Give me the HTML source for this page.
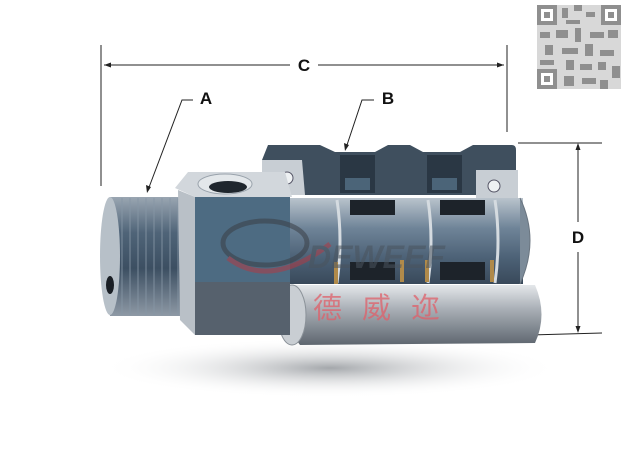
<!DOCTYPE html>
<html><head><meta charset="utf-8"><style>
html,body{margin:0;padding:0;background:#fff;}
svg{display:block;}
text{font-family:"Liberation Sans",Arial,sans-serif;font-weight:bold;}
</style></head><body>
<svg width="629" height="454" viewBox="0 0 629 454" xmlns="http://www.w3.org/2000/svg">
<defs>
<linearGradient id="thr" x1="0" y1="0" x2="0" y2="1">
<stop offset="0" stop-color="#9aa6b2"/><stop offset="0.3" stop-color="#4f6478"/><stop offset="0.6" stop-color="#3c4f62"/><stop offset="1" stop-color="#8e99a5"/></linearGradient>
<linearGradient id="shaft" x1="0" y1="0" x2="0" y2="1">
<stop offset="0" stop-color="#b9c3cc"/><stop offset="0.35" stop-color="#6f8498"/><stop offset="0.7" stop-color="#4c6176"/><stop offset="1" stop-color="#39495a"/></linearGradient>
<linearGradient id="bot" x1="0" y1="0" x2="0" y2="1">
<stop offset="0" stop-color="#e4e7ea"/><stop offset="0.4" stop-color="#a9afb6"/><stop offset="1" stop-color="#5e666f"/></linearGradient>
<radialGradient id="sh" cx="0.5" cy="0.5" r="0.5">
<stop offset="0" stop-color="#8d9196" stop-opacity="0.8"/><stop offset="1" stop-color="#fff" stop-opacity="0"/></radialGradient>
</defs>
<!-- shadow -->
<ellipse cx="330" cy="368" rx="230" ry="30" fill="url(#sh)"/>
<!-- QR -->
<g fill="#8f8f8f">
<rect x="537" y="5" width="84" height="84" fill="#d8d8d8"/>
<rect x="537" y="5" width="20" height="20"/><rect x="541" y="9" width="12" height="12" fill="#fff"/><rect x="544" y="12" width="6" height="6"/>
<rect x="601" y="5" width="20" height="20"/><rect x="605" y="9" width="12" height="12" fill="#fff"/><rect x="608" y="12" width="6" height="6"/>
<rect x="537" y="69" width="20" height="20"/><rect x="541" y="73" width="12" height="12" fill="#fff"/><rect x="544" y="76" width="6" height="6"/>
<rect x="562" y="8" width="6" height="10"/><rect x="574" y="5" width="8" height="6"/><rect x="586" y="12" width="9" height="5"/>
<rect x="540" y="32" width="10" height="6"/><rect x="556" y="30" width="12" height="8"/><rect x="575" y="28" width="6" height="14"/>
<rect x="590" y="32" width="14" height="6"/><rect x="608" y="30" width="10" height="8"/><rect x="545" y="45" width="8" height="10"/>
<rect x="562" y="48" width="16" height="6"/><rect x="585" y="44" width="8" height="12"/><rect x="600" y="50" width="14" height="6"/>
<rect x="540" y="60" width="14" height="5"/><rect x="566" y="60" width="8" height="10"/><rect x="580" y="64" width="12" height="6"/>
<rect x="598" y="62" width="8" height="8"/><rect x="612" y="66" width="8" height="12"/><rect x="564" y="76" width="10" height="10"/>
<rect x="582" y="78" width="14" height="6"/><rect x="600" y="80" width="8" height="9"/><rect x="566" y="20" width="14" height="4"/>
</g>
<!-- dimension lines -->
<g stroke="#222" stroke-width="1" fill="none">
<line x1="101" y1="45" x2="101" y2="186"/>
<line x1="507" y1="45" x2="507" y2="132"/>
<line x1="104" y1="65" x2="290" y2="65"/><line x1="318" y1="65" x2="504" y2="65"/>
<line x1="518" y1="143" x2="602" y2="143"/>
<line x1="530" y1="335" x2="602" y2="333"/>
<line x1="578" y1="146" x2="578" y2="222"/><line x1="578" y1="252" x2="578" y2="331"/>
<polyline points="193,100 182,100 148,190"/>
<polyline points="374,100 362,100 346,148"/>
</g>
<g fill="#222">
<polygon points="104,65 111,62.5 111,67.5"/><polygon points="504,65 497,62.5 497,67.5"/>
<polygon points="578,143 575.5,150 580.5,150"/><polygon points="578,333 575.5,326 580.5,326"/>
<polygon points="147,193 146,185 151,187"/><polygon points="345,151 344,143 349,145"/>
</g>
<text x="304" y="71" font-size="17" text-anchor="middle" fill="#111">C</text>
<text x="206" y="104" font-size="17" text-anchor="middle" fill="#111">A</text>
<text x="388" y="104" font-size="17" text-anchor="middle" fill="#111">B</text>
<text x="578" y="243" font-size="17" text-anchor="middle" fill="#111">D</text>
<!-- bottom housing -->
<path d="M285,285 L535,285 Q548,315 535,343 L300,345 Q280,320 285,285 Z" fill="url(#bot)"/>
<ellipse cx="292" cy="315" rx="14" ry="30" fill="#c9ced3" stroke="#8a9198"/>
<!-- shaft -->
<rect x="285" y="198" width="238" height="86" fill="url(#shaft)"/>
<path d="M520,198 Q540,240 520,284" fill="#7c8b99" stroke="#6a7580"/>
<g stroke="#d5dbe0" stroke-width="3" fill="none">
<path d="M337,200 Q343,240 337,283"/><path d="M428,200 Q434,240 428,283"/><path d="M495,200 Q501,240 495,283"/>
</g>
<rect x="350" y="262" width="45" height="18" fill="#1d232a"/><rect x="440" y="262" width="45" height="18" fill="#1d232a"/>
<rect x="350" y="200" width="45" height="15" fill="#1d232a"/><rect x="440" y="200" width="45" height="15" fill="#1d232a"/>
<g fill="#b08a4a"><rect x="334" y="262" width="4" height="22"/><rect x="400" y="260" width="4" height="22"/><rect x="425" y="260" width="4" height="22"/><rect x="490" y="260" width="4" height="22"/>
<rect x="315" y="188" width="4" height="6"/><rect x="382" y="188" width="4" height="6"/><rect x="403" y="188" width="4" height="6"/><rect x="468" y="188" width="4" height="6"/></g>
<!-- top housing -->
<path d="M268,145 L320,145 L335,152 L375,152 L388,145 L410,145 L423,152 L460,152 L473,145 L512,145 Q516,145 516,150 L516,170 L476,170 L476,195 L262,195 L262,160 Z" fill="#3f4f5e"/>
<rect x="340" y="155" width="35" height="38" fill="#2a3744"/><rect x="427" y="155" width="35" height="38" fill="#2a3744"/>
<rect x="345" y="178" width="25" height="12" fill="#4b6478"/><rect x="432" y="178" width="25" height="12" fill="#4b6478"/>
<path d="M262,160 L302,160 L305,195 L262,195 Z" fill="#c8ced4"/>
<circle cx="287" cy="178" r="6" fill="#eef1f3" stroke="#556"/>
<path d="M476,170 L518,170 L518,198 L476,198 Z" fill="#c8ced4"/>
<circle cx="494" cy="186" r="6" fill="#eef1f3" stroke="#556"/>
<!-- thread -->
<path d="M110,197 L192,197 L192,316 L110,316 Q97,256 110,197 Z" fill="url(#thr)"/>
<ellipse cx="110" cy="256" rx="10" ry="59" fill="#b7c0c8"/>
<ellipse cx="110" cy="285" rx="4" ry="9" fill="#1a1f25"/>
<g stroke="#8797a6" stroke-width="1.2" opacity="0.7">
<line x1="122" y1="198" x2="122" y2="315"/><line x1="130" y1="198" x2="130" y2="315"/><line x1="138" y1="198" x2="138" y2="315"/><line x1="146" y1="198" x2="146" y2="315"/><line x1="154" y1="198" x2="154" y2="315"/><line x1="162" y1="198" x2="162" y2="315"/><line x1="170" y1="198" x2="170" y2="315"/><line x1="178" y1="198" x2="178" y2="315"/>
</g>
<!-- hex body -->
<path d="M175,188 L188,172 L285,172 L292,197 L195,197 Z" fill="#d2d7dc"/>
<ellipse cx="225" cy="184" rx="27" ry="10" fill="#e3e7ea" stroke="#9aa3ac"/>
<ellipse cx="228" cy="187" rx="19" ry="6" fill="#1f262d"/>
<path d="M178,190 L195,197 L195,335 L180,320 Z" fill="#b9c0c7"/>
<rect x="195" y="197" width="95" height="85" fill="#4d6b82"/>
<rect x="195" y="282" width="95" height="53" fill="#56616d"/>
<!-- watermark -->
<g opacity="0.55">
<ellipse cx="265" cy="243" rx="42" ry="22" fill="none" stroke="#3a3f46" stroke-width="5"/>
<path d="M228,258 Q270,290 330,244" fill="none" stroke="#b03a45" stroke-width="5"/>
<text x="308" y="268" font-size="32" font-style="italic" fill="#4a545e">DEWEEF</text>
</g>
<text x="313" y="318" font-size="29" fill="#e0606a" opacity="0.75" letter-spacing="20" style="font-family:'Liberation Sans','Noto Sans CJK SC',sans-serif;font-weight:normal">德威迩</text>
</svg>
</body></html>
